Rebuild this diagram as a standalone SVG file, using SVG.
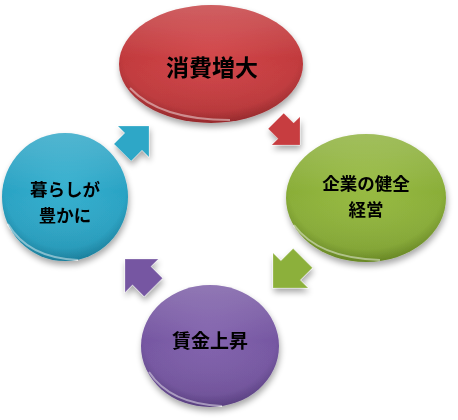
<svg xmlns="http://www.w3.org/2000/svg" xmlns:xlink="http://www.w3.org/1999/xlink" width="458" height="420" viewBox="0 0 458 420">
<style>
.lbl{font-family:"Noto Sans CJK JP","Noto Sans CJK SC",sans-serif;font-weight:700;fill:#000;text-anchor:middle}
.gloss{fill:url(#gloss)}
.rim{fill:none;stroke:#fff;stroke-opacity:0.45;stroke-width:2}
.arw{stroke:#fff;stroke-opacity:0.25;stroke-width:0.8;stroke-linejoin:round}
</style>
<defs>
<filter id="sh" x="-20%" y="-20%" width="140%" height="150%">
<feGaussianBlur in="SourceAlpha" stdDeviation="3"/>
<feOffset dx="1" dy="4" result="b"/>
<feComponentTransfer><feFuncA type="linear" slope="0.35"/></feComponentTransfer>
<feMerge><feMergeNode/><feMergeNode in="SourceGraphic"/></feMerge>
</filter>
<radialGradient id="gRed" cx="50%" cy="42%" r="60%"><stop offset="0" stop-color="#d2474a"/><stop offset="0.8" stop-color="#c23a3d"/><stop offset="1" stop-color="#9c2a2d"/></radialGradient>
<radialGradient id="gGreen" cx="50%" cy="42%" r="60%"><stop offset="0" stop-color="#98bb43"/><stop offset="0.8" stop-color="#8aae38"/><stop offset="1" stop-color="#6b8c24"/></radialGradient>
<radialGradient id="gPurple" cx="50%" cy="42%" r="60%"><stop offset="0" stop-color="#8364ae"/><stop offset="0.8" stop-color="#7657a2"/><stop offset="1" stop-color="#5c4186"/></radialGradient>
<radialGradient id="gBlue" cx="50%" cy="42%" r="60%"><stop offset="0" stop-color="#36b0cf"/><stop offset="0.8" stop-color="#2aa3c4"/><stop offset="1" stop-color="#1b84a3"/></radialGradient>
<linearGradient id="gloss" x1="0" y1="0" x2="0" y2="1"><stop offset="0" stop-color="#fff" stop-opacity="0.18"/><stop offset="0.45" stop-color="#fff" stop-opacity="0"/><stop offset="1" stop-color="#000" stop-opacity="0.08"/></linearGradient>
<path id="arr" d="M0,0 L-20,-20 L-20,-11 L-34,-11 L-34,11 L-20,11 L-20,20 Z"/>
</defs>

<g id="connectors" filter="url(#sh)">
<use class="arw" xlink:href="#arr" transform="translate(300,145) rotate(45)" fill="#c73c3f"/>
<use class="arw" xlink:href="#arr" transform="translate(273,288) rotate(135) scale(1.24)" fill="#8cb03a"/>
<use class="arw" xlink:href="#arr" transform="translate(125,259) rotate(225) scale(1.18)" fill="#7657a2"/>
<use class="arw" xlink:href="#arr" transform="translate(149,126) rotate(-45) scale(1.1)" fill="#2ea7c7"/>
</g>

<g id="node-red" filter="url(#sh)">
<ellipse cx="211" cy="64" rx="92" ry="59" fill="url(#gRed)"/>
<ellipse class="gloss" cx="211" cy="64" rx="92" ry="59"/>
<path class="rim" d="M130,88 Q160,120 230,120"/>
<text class="lbl" x="212" y="76" font-size="23">消費増大</text>
</g>

<g id="node-green" filter="url(#sh)">
<ellipse cx="366" cy="198" rx="80" ry="64" fill="url(#gGreen)"/>
<ellipse class="gloss" cx="366" cy="198" rx="80" ry="64"/>
<path class="rim" d="M294,225 Q318,258 380,260"/>
<text class="lbl" x="366" y="190" font-size="17.5">企業の健全</text>
<text class="lbl" x="366" y="216" font-size="17.5">経営</text>
</g>

<g id="node-purple" filter="url(#sh)">
<ellipse cx="210" cy="346" rx="69" ry="61" fill="url(#gPurple)"/>
<ellipse class="gloss" cx="210" cy="346" rx="69" ry="61"/>
<path class="rim" d="M149,372 Q170,404 222,406"/>
<text class="lbl" x="210" y="348" font-size="19">賃金上昇</text>
</g>

<g id="node-blue" filter="url(#sh)">
<ellipse cx="65" cy="197" rx="63" ry="64" fill="url(#gBlue)"/>
<ellipse class="gloss" cx="65" cy="197" rx="63" ry="64"/>
<path class="rim" d="M8,224 Q28,258 78,260"/>
<text class="lbl" x="65" y="196" font-size="17.5">暮らしが</text>
<text class="lbl" x="65" y="222" font-size="17.5">豊かに</text>
</g>
</svg>
